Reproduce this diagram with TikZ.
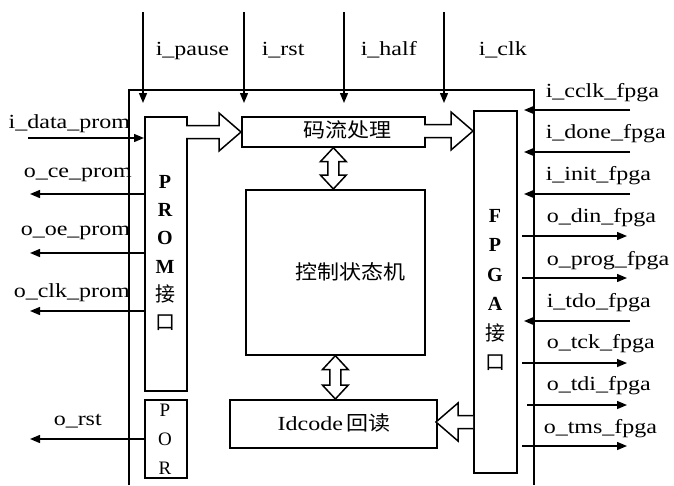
\documentclass[tikz,border=0pt]{standalone}
\usepackage{fontspec}
\setmainfont{Liberation Serif}
\newfontfamily\cjk{Noto Sans CJK SC}
\usetikzlibrary{arrows.meta,calc}
\newcommand\stretched[1]{\scalebox{1.2}[1]{#1}}
\newcommand\bigarrowH[2]{% #1 tail, #2 tip (same y)
  \draw[hol] ($(#1)+(0,-6.5)$) -- ($(#2)!22pt!(#1)+(0,-6.5)$) -- ($(#2)!22pt!(#1)+(0,-19)$) -- (#2)
   -- ($(#2)!22pt!(#1)+(0,19)$) -- ($(#2)!22pt!(#1)+(0,6.5)$) -- ($(#1)+(0,6.5)$);}
\newcommand\dblV[2]{% #1 top, #2 bottom (same x)
  \draw[hol] (#1) -- ($(#1)+(13,14)$) -- ($(#1)+(5.5,14)$) -- ($(#2)+(5.5,-14)$) -- ($(#2)+(13,-14)$)
   -- (#2) -- ($(#2)+(-13,-14)$) -- ($(#2)+(-5.5,-14)$) -- ($(#1)+(-5.5,14)$) -- ($(#1)+(-13,14)$) -- cycle;}
\begin{document}
\begin{tikzpicture}[x=1pt,y=-1pt,
  line width=1.5pt,
  box/.style={draw,rectangle,inner sep=0pt,anchor=north west,line width=1.7pt},
  lbl/.style={anchor=base west,inner sep=0pt,font=\fontsize{20}{22}\selectfont},
  sig/.style={-{Triangle[length=10pt,width=8pt]},line width=1.4pt},
  hol/.style={draw,fill=white,line width=1.5pt,line join=miter},
  vtext/.style={align=center,inner sep=0pt}]
\useasboundingbox (0,0) rectangle (674,485);
% outer frame
\coordinate (fbl) at (129,485);
\coordinate (ftl) at (129,90);
\coordinate (ftr) at (534,90);
\coordinate (fbr) at (534,485);
\draw (fbl) -- (ftl) -- (ftr) -- (fbr);
% boxes
\node[box,minimum width=42pt,minimum height=274pt] (prom) at (144,116) {};
\node[box,minimum width=42pt,minimum height=78pt] (por) at (144,399) {};
\node[box,minimum width=43pt,minimum height=362pt] (fpga) at (473,110) {};
\node[box,minimum width=183pt,minimum height=30pt] (ml) at (241,116) {};
\node[box,minimum width=179pt,minimum height=165pt] (fsm) at (245,189) {};
\node[box,minimum width=207pt,minimum height=48pt] (idc) at (229,399) {};
% box texts
\node[vtext,font=\fontsize{20}{28.2}\selectfont\bfseries] (promtxt) at (165,253) {P\\R\\O\\M\\{\cjk\mdseries 接}\\{\cjk\mdseries 口}};
\node[vtext,font=\fontsize{19}{29}\selectfont] (portxt) at (165,439) {P\\O\\R};
\node[vtext,font=\fontsize{20}{29.5}\selectfont\bfseries] (fpgatxt) at (495,290) {F\\P\\G\\A\\{\cjk\mdseries 接}\\{\cjk\mdseries 口}};
\node[inner sep=0pt,font=\fontsize{20}{22}\selectfont\cjk] (mltxt) at (347,130) {\scalebox{1.1}[1]{码流处理}};
\node[inner sep=0pt,font=\fontsize{20}{22}\selectfont\cjk] (fsmtxt) at (350,272) {\scalebox{1.1}[1]{控制状态机}};
\node[inner sep=0pt,font=\fontsize{20}{22}\selectfont] (idctxt) at (334,423) {\stretched{Idcode}\,{\cjk\scalebox{1.1}[1]{回读}}};
% hollow arrows
\coordinate (a1s) at (186,132); \coordinate (a1t) at (241,132);
\bigarrowH{a1s}{a1t}
\coordinate (a2s) at (424,131); \coordinate (a2t) at (473,131);
\bigarrowH{a2s}{a2t}
\coordinate (a3s) at (473,422); \coordinate (a3t) at (436,422);
\bigarrowH{a3s}{a3t}
\dblV{ml.south}{ml.south |- fsm.north}
\dblV{fsm.south}{fsm.south |- idc.north}
% top inputs
\foreach \n/\x/\lx in {pause/143/155, rst/244/261, half/344/360, clk/444/478}{
  \coordinate (t\n) at (\x,12);
  \coordinate (e\n) at (\x,103);
  \draw[sig] (t\n) -- (e\n);
}
\node[lbl] (lpause) at (155,55) {\stretched{i\_pause}};
\node[lbl] (lrst) at (261,55) {\stretched{i\_rst}};
\node[lbl] (lhalf) at (360,55) {\stretched{i\_half}};
\node[lbl] (lclk) at (478,55) {\stretched{i\_clk}};
% left side
\coordinate (dp) at (28,138);
\draw[sig] (dp) -- (prom.west |- dp);
\node[lbl] (ldp) at (8,128) {\stretched{i\_data\_prom}};
\coordinate (ce) at (30,194);
\draw[sig] (prom.west |- ce) -- (ce);
\node[lbl] (lce) at (23,177) {\stretched{o\_ce\_prom}};
\coordinate (oe) at (30,253);
\draw[sig] (prom.west |- oe) -- (oe);
\node[lbl] (loe) at (20,235) {\stretched{o\_oe\_prom}};
\coordinate (ck) at (30,311);
\draw[sig] (prom.west |- ck) -- (ck);
\node[lbl] (lck) at (13,297) {\stretched{o\_clk\_prom}};
\coordinate (rs) at (30,439);
\draw[sig] (por.west |- rs) -- (rs);
\node[lbl] (lrs) at (53,425) {\stretched{o\_rst}};
% right side inputs
\foreach \n/\y in {cclk/110, done/152, init/194, tdo/321}{
  \coordinate (s\n) at (630,\y);
  \coordinate (d\n) at (524,\y);
  \draw[sig] (s\n) -- (d\n);
}
% right side outputs
\foreach \n/\y/\sx in {din/236/522, prog/278/522, tck/363/522, tdi/405/527, tms/446/522}{
  \coordinate (s\n) at (\sx,\y);
  \coordinate (d\n) at (627,\y);
  \draw[sig] (s\n) -- (d\n);
}
\node[lbl] (lcclk) at (545,97) {\stretched{i\_cclk\_fpga}};
\node[lbl] (ldone) at (545,138) {\stretched{i\_done\_fpga}};
\node[lbl] (linit) at (545,180) {\stretched{i\_init\_fpga}};
\node[lbl] (ldin) at (546,222) {\stretched{o\_din\_fpga}};
\node[lbl] (lprog) at (546,265) {\stretched{o\_prog\_fpga}};
\node[lbl] (ltdo) at (546,307) {\stretched{i\_tdo\_fpga}};
\node[lbl] (ltck) at (546,348) {\stretched{o\_tck\_fpga}};
\node[lbl] (ltdi) at (546,390) {\stretched{o\_tdi\_fpga}};
\node[lbl] (ltms) at (543,433) {\stretched{o\_tms\_fpga}};
\end{tikzpicture}
\end{document}
